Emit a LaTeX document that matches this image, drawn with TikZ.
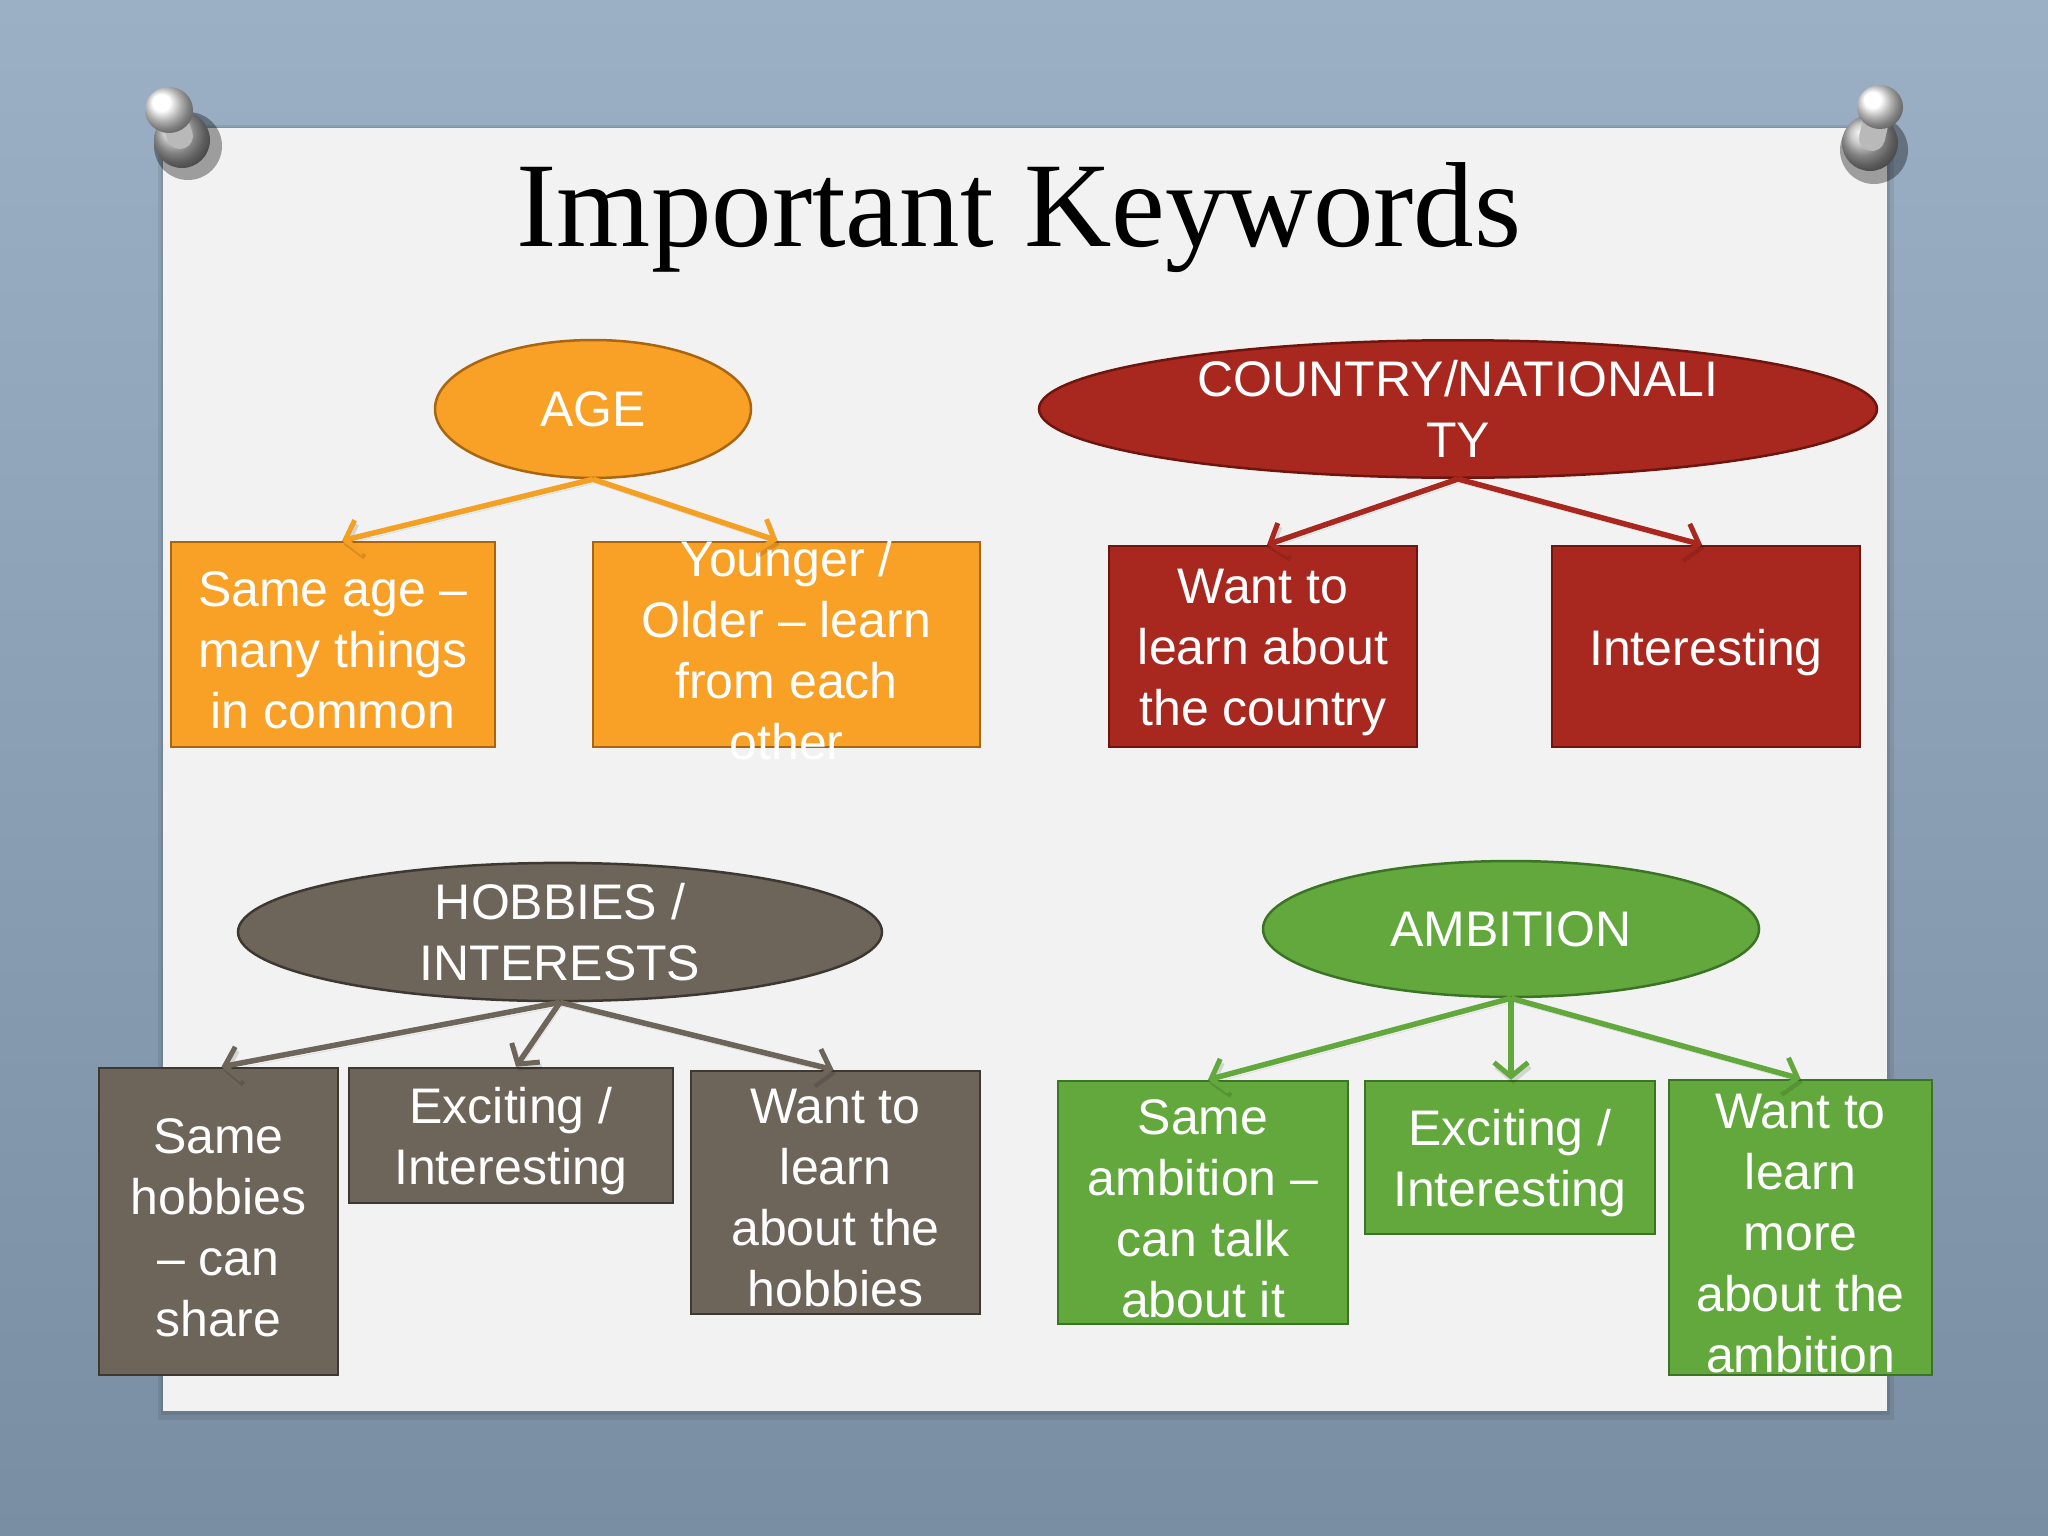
\documentclass[tikz,border=0pt]{standalone}
\usepackage{fontspec}
\setmainfont{Liberation Sans}
\newfontfamily\titlefont{Liberation Serif}
\usetikzlibrary{shapes.geometric,arrows.meta,calc}
\definecolor{bgtop}{HTML}{9CB0C5}
\definecolor{bgbot}{HTML}{7A8EA3}
\definecolor{paper}{HTML}{F2F2F2}
\definecolor{orfill}{HTML}{F8A126}
\definecolor{ordraw}{HTML}{A9650F}
\definecolor{orarrow}{HTML}{F4A025}
\definecolor{rdfill}{HTML}{A8281F}
\definecolor{rddraw}{HTML}{6E150E}
\definecolor{gyfill}{HTML}{6D645A}
\definecolor{gydraw}{HTML}{3E3832}
\definecolor{gnfill}{HTML}{62A83D}
\definecolor{gndraw}{HTML}{3C7426}
\newcommand{\bodyfont}{\fontsize{50}{61}\selectfont}
\tikzset{
  ell/.style={ellipse, line width=2.5pt, inner sep=0pt, text=white, font=\bodyfont, align=center},
  kbox/.style={rectangle, line width=2.5pt, inner sep=0pt},
  txt/.style={text=white, font=\bodyfont, align=center, inner sep=0pt, yshift=-6pt},
  arr/.style={line width=5.5pt, -{Straight Barb[length=14pt,width=34pt,line width=5pt]},
    preaction={draw=black, draw opacity=0.12, transform canvas={shift={(2pt,-4pt)}}}},
  orange/.style={fill=orfill, draw=ordraw},
  red/.style={fill=rdfill, draw=rddraw},
  gray/.style={fill=gyfill, draw=gydraw},
  green/.style={fill=gnfill, draw=gndraw},
}
\begin{document}
\begin{tikzpicture}[x=1pt,y=-1pt]
\useasboundingbox (0,0) rectangle (2048,1536);
% background
\shade[top color=bgtop, bottom color=bgbot] (0,0) rectangle (2048,1536);
% paper shadow and paper
\fill[black,opacity=0.08] (158,125) rectangle (1894,1420);
\fill[black,opacity=0.08] (161,127) rectangle (1890,1415);
\fill[paper] (163,128) rectangle (1887,1411);
% pins
\fill[black,opacity=0.35] (188,146) circle (34);
\shade[ball color=gray!55] (182,140) circle (28);
\draw[line width=26pt, gray!55, line cap=round] (172,114) -- (180,136);
\shade[ball color=white] (169,110) ellipse (24 and 23);
\fill[black,opacity=0.35] (1874,150) circle (34);
\shade[ball color=gray!55] (1870,143) circle (28);
\draw[line width=26pt, gray!55, line cap=round] (1878,112) -- (1872,138);
\shade[ball color=white] (1880,107) ellipse (23 and 22);
% title
\node[anchor=base, inner sep=0pt, font=\titlefont\fontsize{121}{140}\selectfont] (title) at (1019,246) {Important Keywords};
% AGE
\node[ell, orange, minimum width=316pt, minimum height=138pt] (age) at (593,409) {AGE};
\node[kbox, orange, minimum width=324pt, minimum height=205pt] (sameage) at (333,644.5) {};
\node[txt] at (sameage.center) {Same age –\\many things\\in common};
\node[kbox, orange, minimum width=387pt, minimum height=205pt] (younger) at (786.5,644.5) {};
\node[txt] at (younger.center) {Younger /\\Older – learn\\from each\\other};
\draw[arr, orarrow] (age.south) -- ($(sameage.north)+(9,0)$);
\draw[arr, orarrow] (age.south) -- ($(younger.north)+(-9,0)$);
% COUNTRY
\node[ell, red, minimum width=838pt, minimum height=134pt] (country) at (1458,409) {COUNTRY/NATIONALI\\TY};
\node[kbox, red, minimum width=308pt, minimum height=201pt] (wantcountry) at (1263,646.5) {};
\node[txt] at (wantcountry.center) {Want to\\learn about\\the country};
\node[kbox, red, minimum width=308pt, minimum height=201pt] (interesting) at (1706,646.5) {};
\node[txt] at (interesting.center) {Interesting};
\draw[arr, rdfill] (country.south) -- ($(wantcountry.north)+(4,0)$);
\draw[arr, rdfill] (country.south) -- ($(interesting.north)+(-4,0)$);
% HOBBIES
\node[ell, gray, minimum width=644pt, minimum height=134pt] (hobbies) at (560,932) {HOBBIES /\\INTERESTS};
\node[kbox, gray, minimum width=239pt, minimum height=307pt] (samehob) at (218.5,1221.5) {};
\node[txt] at (samehob.center) {Same\\hobbies\\– can\\share};
\node[kbox, gray, minimum width=324pt, minimum height=135pt] (exchob) at (511,1135.5) {};
\node[txt] at (exchob.center) {Exciting /\\Interesting};
\node[kbox, gray, minimum width=289pt, minimum height=243pt] (wanthob) at (835.5,1192.5) {};
\node[txt] at (wanthob.center) {Want to\\learn\\about the\\hobbies};
\draw[arr, gyfill] (hobbies.south) -- ($(samehob.north)+(3,0)$);
\draw[arr, gyfill] (hobbies.south) -- ($(exchob.north)+(5,0)$);
\draw[arr, gyfill] (hobbies.south) -- ($(wanthob.north)+(-2,0)$);
% AMBITION
\node[ell, green, minimum width=496pt, minimum height=136pt] (ambition) at (1511,929) {AMBITION};
\node[kbox, green, minimum width=290pt, minimum height=243pt] (sameamb) at (1203,1202.5) {};
\node[txt] at (sameamb.center) {Same\\ambition –\\can talk\\about it};
\node[kbox, green, minimum width=290pt, minimum height=153pt] (excamb) at (1510,1157.5) {};
\node[txt] at (excamb.center) {Exciting /\\Interesting};
\node[kbox, green, minimum width=263pt, minimum height=295pt] (wantamb) at (1800.5,1227.5) {};
\node[txt] at (wantamb.center) {Want to\\learn\\more\\about the\\ambition};
\draw[arr, gnfill] (ambition.south) -- ($(sameamb.north)+(5,0)$);
\draw[arr, gnfill] (ambition.south) -- ($(excamb.north)+(1,0)$);
\draw[arr, gnfill] (ambition.south) -- (wantamb.north);
\end{tikzpicture}
\end{document}
